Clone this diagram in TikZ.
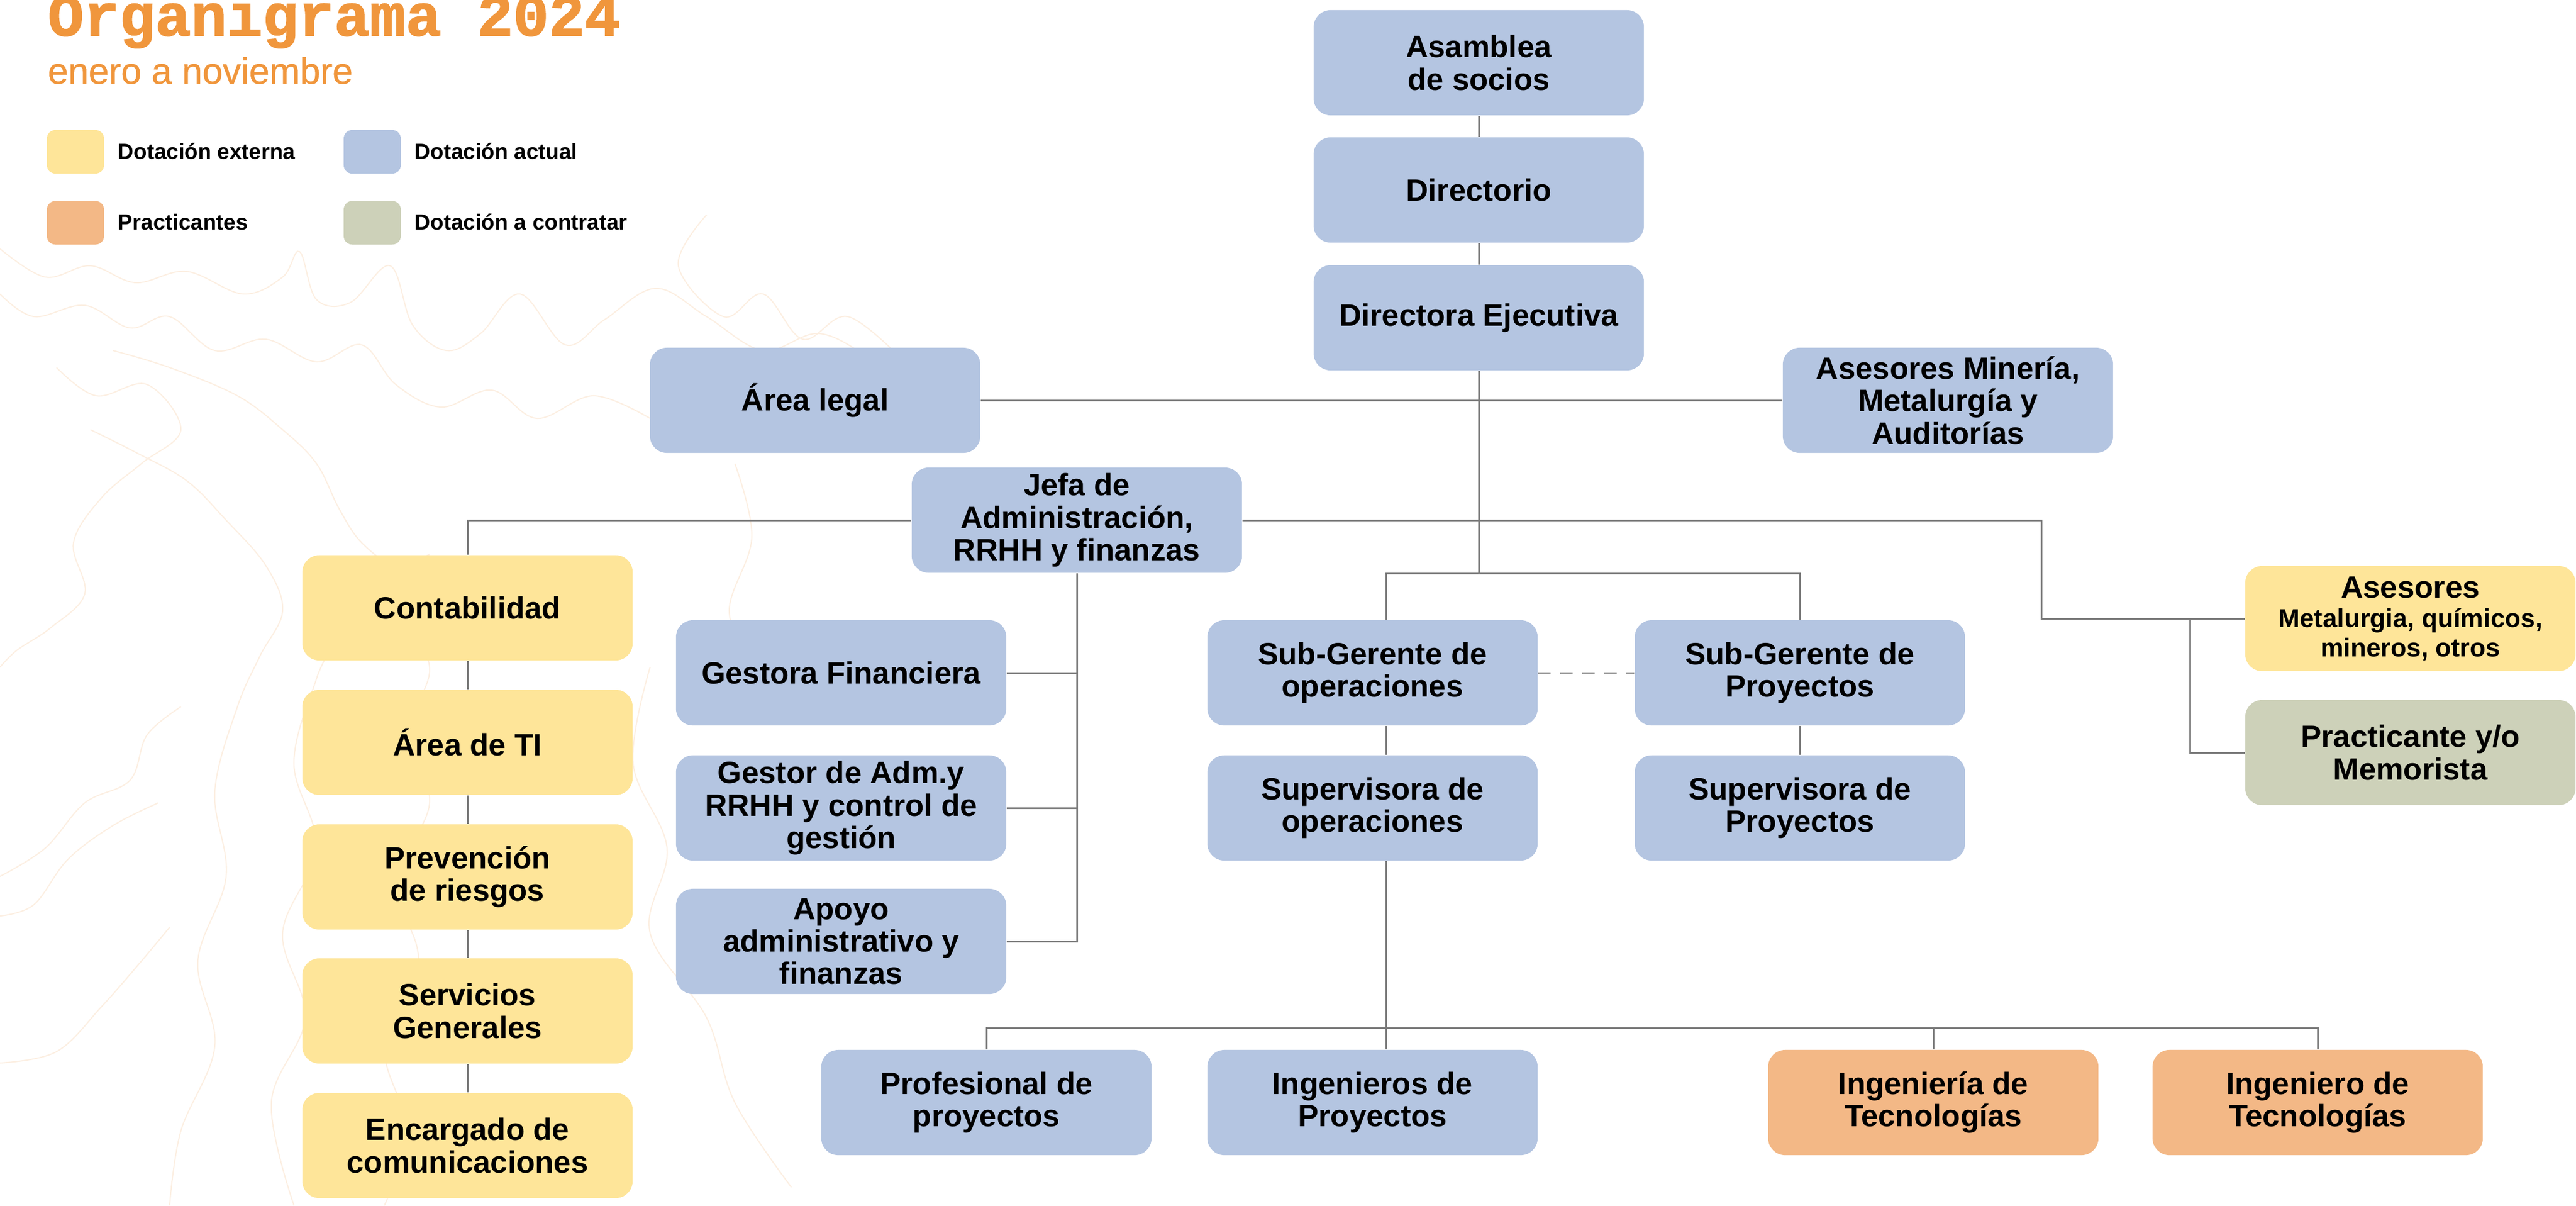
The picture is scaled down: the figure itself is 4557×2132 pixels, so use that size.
\documentclass[tikz,border=0pt]{standalone}
\usepackage{fontspec}
\setmainfont{Liberation Sans}
\newfontfamily\titlefont[FakeBold=1.6]{Liberation Mono Bold}
\newfontfamily\subfont[FakeBold=0.7]{Liberation Sans}
\usetikzlibrary{calc}
\definecolor{cblue}{HTML}{B4C5E1}
\definecolor{cyellow}{HTML}{FEE599}
\definecolor{corange}{HTML}{F3B886}
\definecolor{csage}{HTML}{CDD1B9}
\definecolor{ctitle}{HTML}{F0963C}
\definecolor{cline}{HTML}{7A7A7A}
\definecolor{cdash}{HTML}{9A9A9A}
\definecolor{ccontour}{HTML}{FCEFE2}
\tikzset{
  orgbox/.style={rectangle, rounded corners=0.3cm, minimum width=5.84cm, minimum height=1.86cm,
    inner sep=0pt, align=center, font=\fontsize{15.5}{16.3}\selectfont\bfseries},
  bluebox/.style={orgbox, fill=cblue},
  yellowbox/.style={orgbox, fill=cyellow},
  orangebox/.style={orgbox, fill=corange},
  sagebox/.style={orgbox, fill=csage},
  conn/.style={draw=cline, line width=0.85pt},
  dashconn/.style={draw=cdash, line width=0.85pt, dash pattern=on 0.22cm off 0.17cm},
  contour/.style={draw=ccontour, line width=0.6pt},
  legsq/.style={rectangle, rounded corners=0.15cm, minimum width=1.01cm, minimum height=0.77cm, inner sep=0pt},
  legtxt/.style={anchor=base west, inner sep=0pt, font=\fontsize{11}{12}\selectfont\bfseries},
}
\begin{document}
\begin{tikzpicture}[x=0.01cm, y=-0.01cm]
\useasboundingbox (0,0) rectangle (4557,2132);
% background contours
\draw[contour] plot[smooth, tension=0.6] coordinates {(0,440) (80,490) (160,470) (240,500) (330,480) (430,520) (500,490) (530,445) (560,530) (620,535) (690,470) (730,575) (790,620) (850,590) (920,520) (1000,610) (1070,565) (1160,510) (1250,560) (1350,620) (1450,590) (1550,640) (1650,700)};
\draw[contour] plot[smooth, tension=0.6] coordinates {(0,520) (60,560) (150,540) (230,580) (300,560) (380,620) (470,600) (560,640) (640,610) (700,680) (780,720) (870,690) (950,740) (1050,700) (1150,740)};
\draw[contour] plot[smooth, tension=0.6] coordinates {(100,650) (170,700) (260,680) (320,760) (250,820) (180,880) (130,960) (150,1050) (90,1110) (30,1150) (0,1180)};
\draw[contour] plot[smooth, tension=0.6] coordinates {(200,620) (300,650) (420,700) (500,760) (560,820) (600,900) (640,960) (700,1000) (760,980)};
\draw[contour] plot[smooth, tension=0.6] coordinates {(160,760) (240,800) (330,850) (400,920) (470,1000) (500,1080) (460,1160) (420,1250) (380,1400) (400,1550) (350,1700) (380,1850) (320,2000) (300,2132)};
\draw[contour] plot[smooth, tension=0.6] coordinates {(560,1000) (600,1100) (560,1200) (520,1350) (560,1500) (500,1650) (540,1800) (480,1950) (520,2132)};
\draw[contour] plot[smooth, tension=0.6] coordinates {(0,1550) (80,1500) (150,1420) (230,1380) (260,1300) (320,1250)};
\draw[contour] plot[smooth, tension=0.6] coordinates {(0,1880) (100,1860) (180,1780) (250,1700) (300,1640)};
\draw[contour] plot[smooth, tension=0.6] coordinates {(0,1620) (60,1600) (120,1520) (200,1460) (280,1420)};
\draw[contour] plot[smooth, tension=0.6] coordinates {(1150,1180) (1120,1350) (1180,1500) (1150,1650) (1250,1800) (1300,1950) (1400,2100)};
\draw[contour] plot[smooth, tension=0.6] coordinates {(1300,820) (1330,950) (1290,1080) (1330,1180)};
\draw[contour] plot[smooth, tension=0.6] coordinates {(1250,380) (1200,470) (1280,560) (1350,520) (1420,600) (1500,560) (1600,640)};
\draw[contour] plot[smooth, tension=0.6] coordinates {(700,1080) (760,1180) (720,1300) (760,1420) (700,1560) (740,1700) (680,1850) (720,2000) (680,2132)};

% title and legend
\node[anchor=base west, inner sep=0pt, text=ctitle, font=\fontsize{30}{30}\selectfont\titlefont] (title) at (84,63) {Organigrama 2024};
\node[anchor=base west, inner sep=0pt, text=ctitle, font=\fontsize{18.4}{20}\selectfont\subfont] (subtitle) at (84,148) {enero a noviembre};
\node[legsq, fill=cyellow] (lg1) at (133.5,268.5) {};
\node[legsq, fill=cblue] (lg2) at (658.5,268.5) {};
\node[legsq, fill=corange] (lg3) at (133.5,394) {};
\node[legsq, fill=csage] (lg4) at (658.5,394) {};
\node[legtxt] (lt1) at (208,281) {Dotación externa};
\node[legtxt] (lt2) at (733,281) {Dotación actual};
\node[legtxt] (lt3) at (208,406) {Practicantes};
\node[legtxt] (lt4) at (733,406) {Dotación a contratar};

% boxes
\node[bluebox] (asamblea) at (2616,111) {Asamblea\\de socios};
\node[bluebox] (directorio) at (2616,336) {Directorio};
\node[bluebox] (directora) at (2616,562) {Directora Ejecutiva};
\node[bluebox] (legal) at (1442,708) {Área legal};
\node[bluebox] (asesmin) at (3446,708) {Asesores Minería,\\Metalurgía y\\Auditorías};
\node[bluebox] (jefa) at (1905,920) {Jefa de\\Administración,\\RRHH y finanzas};

\node[yellowbox] (contab) at (827,1075) {Contabilidad};
\node[yellowbox] (ti) at (827,1313) {Área de TI};
\node[yellowbox] (prev) at (827,1551) {Prevención\\de riesgos};
\node[yellowbox] (serv) at (827,1788) {Servicios\\Generales};
\node[yellowbox] (enc) at (827,2026) {Encargado de\\comunicaciones};

\node[bluebox] (gestora) at (1488,1190) {Gestora Financiera};
\node[bluebox] (gestor) at (1488,1429) {Gestor de Adm.y\\RRHH y control de\\gestión};
\node[bluebox] (apoyo) at (1488,1665) {Apoyo\\administrativo y\\finanzas};

\node[bluebox] (subops) at (2428,1190) {Sub-Gerente de\\operaciones};
\node[bluebox] (supops) at (2428,1429) {Supervisora de\\operaciones};
\node[bluebox] (subproy) at (3184,1190) {Sub-Gerente de\\Proyectos};
\node[bluebox] (supproy) at (3184,1429) {Supervisora de\\Proyectos};

\node[yellowbox] (asesores) at (4264,1094) {Asesores\\[-1.5pt]{\fontsize{13}{13.9}\selectfont Metalurgia, químicos,}\\[-1.5pt]{\fontsize{13}{13.9}\selectfont mineros, otros}};
\node[sagebox] (practicante) at (4264,1331) {Practicante y/o\\Memorista};

\node[bluebox] (profesional) at (1745,1950) {Profesional de\\proyectos};
\node[bluebox] (ingproy) at (2428,1950) {Ingenieros de\\Proyectos};
\node[orangebox] (ingtec1) at (3420,1950) {Ingeniería de\\Tecnologías};
\node[orangebox] (ingtec2) at (4100,1950) {Ingeniero de\\Tecnologías};

% junction coordinates
\coordinate (tL) at (827,920);
\coordinate (tR) at (3611,920);
\coordinate (pJ) at (3874,1094);
\coordinate (bM) at (2616,1014);
\coordinate (bL) at (2452,1014);
\coordinate (bR) at (3184,1014);
\coordinate (jB) at (1905,1665);
\coordinate (hL) at (1745,1818);
\coordinate (hM) at (2452,1818);
\coordinate (h3) at (3420,1818);
\coordinate (hR) at (4100,1818);

% connectors
\draw[conn] (asamblea) -- (directorio);
\draw[conn] (directorio) -- (directora);
\draw[conn] (directora) -- (bM);
\draw[conn] (legal) -- (asesmin);
\draw[conn] (contab.north) -- (tL) -- (jefa.west);
\draw[conn] (jefa.east) -- (tR) |- (asesores.west);
\draw[conn] (pJ) |- (practicante.west);
\draw[conn] (contab) -- (ti);
\draw[conn] (ti) -- (prev);
\draw[conn] (prev) -- (serv);
\draw[conn] (serv) -- (enc);
\draw[conn] (jefa.south) -- (jB) -- (apoyo.east);
\draw[conn] (gestora.east) -- (gestora.east -| jB);
\draw[conn] (gestor.east) -- (gestor.east -| jB);
\draw[conn] (subops.north -| bL) -- (bL) -- (bR) -- (subproy.north);
\draw[conn] (subops.south -| bL) -- (supops.north -| bL);
\draw[conn] (supops.south -| bL) -- (hM) -- (ingproy.north -| bL);
\draw[conn] (profesional.north) -- (hL) -- (hR) -- (ingtec2.north);
\draw[conn] (h3) -- (ingtec1.north);
\draw[conn] (subproy) -- (supproy);
\draw[dashconn] (subops.east) -- (subproy.west);
\end{tikzpicture}
\end{document}
